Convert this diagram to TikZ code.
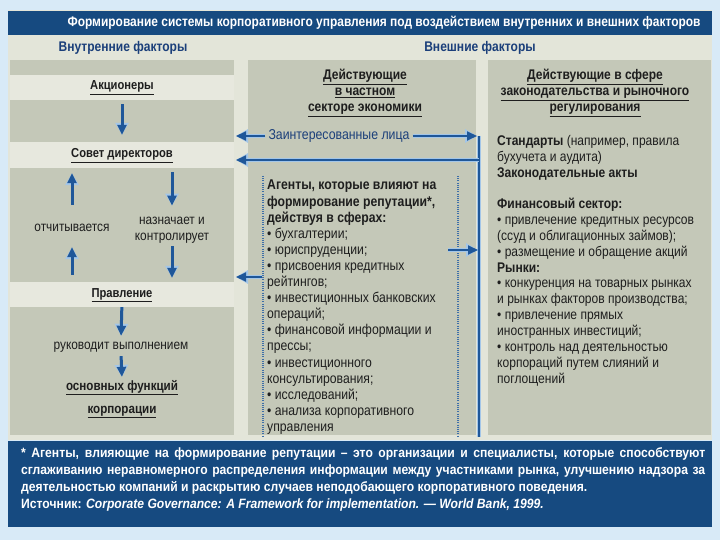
\documentclass[tikz,border=0pt]{standalone}
\usepackage{fontspec}
\setmainfont{Liberation Sans}[FakeStretch=0.86]
\newfontfamily\footfont{Liberation Sans}[FakeStretch=0.9]
\usetikzlibrary{arrows.meta}
\definecolor{slidebg}{HTML}{D8EAF7}
\definecolor{hdrblue}{HTML}{164A80}
\definecolor{panel}{HTML}{E3E5D9}
\definecolor{colgray}{HTML}{C4C8B8}
\definecolor{strip}{HTML}{E7E8DE}
\definecolor{navy}{HTML}{1B3F7A}
\definecolor{arrowblue}{HTML}{1F5799}
\definecolor{halo}{HTML}{A3C6E8}
\definecolor{txt}{HTML}{1E1E1E}
\definecolor{dotblue}{HTML}{3D6EA8}
\newcommand\bline[2]{\draw[halo,#1] #2; \draw[conn,#1] #2;}
\newcommand\fline[1]{\makebox[684pt][s]{#1}}
\begin{document}
\begin{tikzpicture}[x=1pt,y=-1pt,
  halo/.style={draw=halo, line width=4.5pt, >={Triangle[width=13pt,length=12pt]}},
  conn/.style={draw=arrowblue, line width=2pt, >={Triangle[width=9pt,length=10pt]}},
  titlefont/.style={font=\bfseries\fontsize{13.9}{16}\selectfont, text=white, inner sep=0pt},
  subhead/.style={font=\bfseries\fontsize{14}{16}\selectfont, text=navy, inner sep=0pt},
  lbold/.style={font=\bfseries\fontsize{13}{16}\selectfont, text=txt, text height=9pt, text depth=3pt, inner sep=1pt},
  ltext/.style={font=\fontsize{13.8}{16}\selectfont, text=txt, inner sep=1pt},
  colhead/.style={font=\bfseries\fontsize{14}{16}\selectfont, text=txt, align=center, inner sep=0pt},
  body/.style={font=\fontsize{14}{15.85}\selectfont, text=txt, align=left, inner sep=0pt, anchor=north west},
  foot/.style={font=\footfont\bfseries\fontsize{13.5}{17}\selectfont, text=white, align=left, inner sep=0pt, anchor=north west},
  dotline/.style={draw=dotblue, line width=1.3pt, dash pattern=on 1pt off 1.2pt}
]
\useasboundingbox (0,0) rectangle (720,540);
% background
\fill[slidebg] (0,0) rectangle (720,540);
\fill[panel] (8,10) rectangle (712,440);
\fill[hdrblue] (8,11) rectangle (712,35);
% columns
\fill[colgray] (10,60) rectangle (234,435);
\fill[colgray] (248,60) rectangle (476,435);
\fill[colgray] (488,60) rectangle (711,435);
\fill[strip] (10,75) rectangle (234,100);
\fill[strip] (10,142) rectangle (234,168);
\fill[strip] (10,282) rectangle (234,307);
% footer
\fill[hdrblue] (8,441) rectangle (712,527);

% titles
\node[titlefont] (title) at (384,23) {Формирование системы корпоративного управления под воздействием внутренних и внешних факторов};
\node[subhead] (inner) at (123,48) {Внутренние факторы};
\node[subhead] (outer) at (480,48) {Внешние факторы};

% left column
\node[lbold] (akc) at (122,87) {\underline{Акционеры}};
\node[lbold] (sovet) at (122,155) {\underline{Совет директоров}};
\node[lbold] (prav) at (122,294) {\underline{Правление}};
\node[ltext, text height=9pt, text depth=3pt] (otch) at (72,228) {отчитывается};
\node[ltext, align=center] (nazn) at (172,230) {назначает и\\контролирует};
\node[ltext, text height=9pt, text depth=3pt] (ruk) at (121,346) {руководит выполнением};
\node[colhead, font=\bfseries\fontsize{13.5}{23}\selectfont] (osn) at (122,399) {\underline{основных функций}\\\underline{корпорации}};

\bline{->, line width=3pt, shorten <=10pt, shorten >=13pt}{(akc.south) -- (sovet.north)}
\bline{->, line width=3pt, shorten <=16pt, shorten >=11pt}{(otch.north) -- (otch.north |- sovet.south)}
\bline{->, line width=3pt, shorten <=10pt, shorten >=10pt}{(nazn.north |- sovet.south) -- (nazn.north)}
\bline{->, line width=3pt, shorten <=12pt, shorten >=12pt}{(otch.south |- prav.north) -- (otch.south)}
\bline{->, line width=3pt, shorten <=2pt, shorten >=9pt}{(nazn.south) -- (nazn.south |- prav.north)}
\bline{->, line width=3pt, shorten <=6pt, shorten >=3pt}{(prav.south) -- (ruk.north)}
\bline{->, line width=3pt, shorten <=3pt, shorten >=3pt}{(ruk.south) -- (osn.north)}

% middle column
\node[colhead] (priv) at (365,93) {\underline{Действующие}\\\underline{в частном}\\\underline{секторе экономики}};
\node[font=\fontsize{14.3}{16}\selectfont, text=navy, fill=colgray, inner sep=3pt] (zl) at (339,136) {Заинтересованные лица};
\coordinate (L1) at (236,136);
\coordinate (L2) at (236,160);
\coordinate (L3) at (236,277);
\coordinate (A3) at (262,277);
\coordinate (A5) at (448,250);
\coordinate (R5) at (478,250);
\coordinate (vtop) at (479,136);
\coordinate (vmid) at (479,160);
\coordinate (vbot) at (479,437);
\coordinate (R1) at (477,136);

\draw[dotline] (263,176) -- (263,437);
\draw[dotline] (458,176) -- (458,437);

\bline{}{(vtop) -- (vbot)}
\bline{->}{(zl.west) -- (L1)}
\bline{->}{(zl.east) -- (R1)}
\bline{->}{(vmid) -- (L2)}
\bline{->}{(A5) -- (R5)}
\bline{->}{(A3) -- (L3)}

\node[body, font=\fontsize{14.2}{16.1}\selectfont] (agents) at (267,180) {\textbf{Агенты, которые влияют на}\\
\textbf{формирование репутации*,}\\
\textbf{действуя в сферах:}\\
• бухгалтерии;\\
• юриспруденции;\\
• присвоения кредитных\\
рейтингов;\\
• инвестиционных банковских\\
операций;\\
• финансовой информации и\\
прессы;\\
• инвестиционного\\
консультирования;\\
• исследований;\\
• анализа корпоративного\\
управления};

% right column
\node[colhead] (law) at (595,93) {\underline{Действующие в сфере}\\\underline{законодательства и рыночного}\\\underline{регулирования}};
\node[body] (right) at (497,135) {\textbf{Стандарты} (например, правила\\
бухучета и аудита)\\
\textbf{Законодательные акты}\\[15.85pt]
\textbf{Финансовый сектор:}\\
• привлечение кредитных ресурсов\\
(ссуд и облигационных займов);\\
• размещение и обращение акций\\
\textbf{Рынки:}\\
• конкуренция на товарных рынках\\
и рынках факторов производства;\\
• привлечение прямых\\
иностранных инвестиций;\\
• контроль над деятельностью\\
корпораций путем слияний и\\
поглощений};

% footer
\node[foot] (note) at (21,447) {\fline{* Агенты, влияющие на формирование репутации – это организации и специалисты, которые способствуют}\\
\fline{сглаживанию неравномерного распределения информации между участниками рынка, улучшению надзора за}\\
деятельностью компаний и раскрытию случаев неподобающего корпоративного поведения.\\
Источник: \textit{Corporate Governance: A Framework for implementation. — World Bank, 1999.}};
\end{tikzpicture}
\end{document}
